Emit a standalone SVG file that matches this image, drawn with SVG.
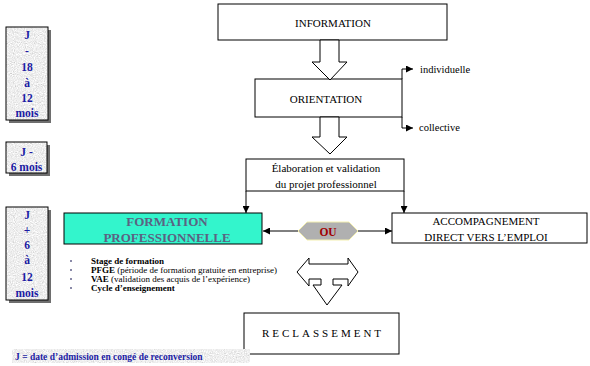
<svg xmlns="http://www.w3.org/2000/svg" width="590" height="366" viewBox="0 0 590 366">
<style>
  .box { fill: #ffffff; stroke: #000000; stroke-width: 1; }
  .lbl { font-family: "Liberation Serif", "Times New Roman", serif; font-size: 11px; fill: #000000; text-anchor: middle; }
  .side { fill: #e0e0e0; stroke: #000000; stroke-width: 1; }
  .shadow { fill: #6e6e6e; }
  .stxt { font-family: "Liberation Serif", "Times New Roman", serif; font-size: 11.5px; font-weight: bold; fill: #1c1ca4; text-anchor: middle; }
  .barrow { fill: #ffffff; stroke: #000000; stroke-width: 1; }
  .line { fill: none; stroke: #000000; stroke-width: 1; }
  .small { font-family: "Liberation Serif", "Times New Roman", serif; font-size: 10.5px; fill: #000000; }
  .bul { font-family: "Liberation Serif", "Times New Roman", serif; font-size: 9px; fill: #000000; }
  .ftxt { font-family: "Liberation Serif", "Times New Roman", serif; font-size: 13px; font-weight: bold; fill: #5b6282; text-anchor: middle; }
</style>
<defs>
  <marker id="ah" viewBox="0 0 10 10" refX="10" refY="5" markerWidth="7" markerHeight="7" markerUnits="userSpaceOnUse" orient="auto">
    <path d="M0,0 L10,5 L0,10 z" fill="#000000"/>
  </marker>
  <filter id="granite" x="0" y="0" width="1" height="1">
    <feTurbulence type="fractalNoise" baseFrequency="0.9" numOctaves="2" seed="4" result="n"/>
    <feColorMatrix in="n" type="matrix" values="0.33 0.33 0.33 0 0.36  0.33 0.33 0.33 0 0.36  0.33 0.33 0.33 0 0.36  0 0 0 0 1" result="g"/>
    <feComposite in="g" in2="SourceGraphic" operator="in"/>
  </filter>
</defs>
<rect width="590" height="366" fill="#ffffff"/>

<g id="time-j18">
  <rect class="shadow" x="9" y="30" width="42" height="93"/>
  <rect class="side" x="6" y="27" width="42" height="93" filter="url(#granite)"/>
  <rect x="6" y="27" width="42" height="93" fill="none" stroke="#000000"/>
  <text class="stxt" x="27" y="39">J</text>
  <text class="stxt" x="27" y="55">-</text>
  <text class="stxt" x="27" y="71">18</text>
  <text class="stxt" x="27" y="87">à</text>
  <text class="stxt" x="27" y="102">12</text>
  <text class="stxt" x="27" y="117">mois</text>
</g>
<g id="time-j6">
  <rect class="shadow" x="9" y="145" width="41" height="31"/>
  <rect class="side" x="6" y="142" width="41" height="31" filter="url(#granite)"/>
  <rect x="6" y="142" width="41" height="31" fill="none" stroke="#000000"/>
  <text class="stxt" x="26.5" y="156">J -</text>
  <text class="stxt" x="26.5" y="171">6 mois</text>
</g>
<g id="time-j6-12">
  <rect class="shadow" x="9" y="210" width="42" height="93"/>
  <rect class="side" x="6" y="207" width="42" height="93" filter="url(#granite)"/>
  <rect x="6" y="207" width="42" height="93" fill="none" stroke="#000000"/>
  <text class="stxt" x="27" y="219">J</text>
  <text class="stxt" x="27" y="234">+</text>
  <text class="stxt" x="27" y="249">6</text>
  <text class="stxt" x="27" y="264">à</text>
  <text class="stxt" x="27" y="281">12</text>
  <text class="stxt" x="27" y="297">mois</text>
</g>

<g id="information">
  <rect class="box" x="218" y="4" width="229" height="36"/>
  <text class="lbl" x="333" y="27" font-size="12.5">INFORMATION</text>
</g>
<g id="orientation">
  <rect class="box" x="255" y="79" width="147" height="38"/>
  <text class="lbl" x="326" y="103" font-size="13.5">ORIENTATION</text>
</g>
<g id="elaboration">
  <rect class="box" x="246" y="159" width="158" height="32"/>
  <text class="lbl" x="326" y="172" font-size="12.5">Élaboration et validation</text>
  <text class="lbl" x="326" y="188" font-size="12.5">du projet professionnel</text>
</g>
<g id="formation">
  <rect x="64" y="213" width="198" height="31" fill="#33f5cc" stroke="#000000" stroke-width="1"/>
  <text class="ftxt" x="167" y="226">FORMATION</text>
  <text class="ftxt" x="167" y="242">PROFESSIONNELLE</text>
</g>
<g id="ou">
  <polygon points="298,231 307,222 349,222 358,231 349,240 307,240" fill="#b0b0b0" stroke="#f4f0b0" stroke-width="1"/>
  <text x="328" y="235.5" font-family="Liberation Serif, Times New Roman, serif" font-size="11.5" font-weight="bold" fill="#a00000" text-anchor="middle">OU</text>
</g>
<g id="accompagnement">
  <rect class="box" x="392" y="213" width="195" height="30"/>
  <text class="lbl" x="486" y="225">ACCOMPAGNEMENT</text>
  <text class="lbl" x="486" y="241">DIRECT VERS L’EMPLOI</text>
</g>
<g id="reclassement">
  <rect class="box" x="244" y="313" width="155" height="41"/>
  <text class="lbl" x="323" y="337" font-size="12" letter-spacing="3">RECLASSEMENT</text>
</g>

<g id="options">
  <text class="small" x="420" y="73">individuelle</text>
  <text class="small" x="419" y="131">collective</text>
</g>

<g id="bullets">
  <rect x="70" y="260" width="2" height="2" fill="#8a8aa8"/>
  <rect x="70" y="269" width="2" height="2" fill="#8a8aa8"/>
  <rect x="70" y="278" width="2" height="2" fill="#8a8aa8"/>
  <rect x="70" y="287" width="2" height="2" fill="#8a8aa8"/>
  <text class="bul" x="91" y="264"><tspan font-weight="bold">Stage de formation</tspan></text>
  <text class="bul" x="91" y="273"><tspan font-weight="bold">PFGE</tspan> (période de formation gratuite en entreprise)</text>
  <text class="bul" x="91" y="282"><tspan font-weight="bold">VAE</tspan> (validation des acquis de l’expérience)</text>
  <text class="bul" x="91" y="291"><tspan font-weight="bold">Cycle d’enseignement</tspan></text>
</g>

<g id="legend">
  <rect x="12" y="349" width="238" height="14" fill="#e0e0e0" filter="url(#granite)"/>
  <text x="15" y="359.5" font-family="Liberation Serif, Times New Roman, serif" font-size="9.5" font-weight="bold" fill="#1c1ca4">J = date d’admission en congé de reconversion</text>
</g>

<g id="connectors">
  <polygon class="barrow" points="320,40 339,40 339,62 347,62 330,80 312,62 320,62"/>
  <polygon class="barrow" points="320,117 339,117 339,137 347,137 330,154 312,137 320,137"/>
  <polygon class="barrow" points="297,272 309,258 309,264 348,264 348,258 358,272 348,286 348,279 333,279 333,285 342,285 327,305 313,285 321,285 321,279 309,279 309,286"/>
  <path class="line" d="M402,79 V69 H413" marker-end="url(#ah)"/>
  <path class="line" d="M402,117 V128 H413" marker-end="url(#ah)"/>
  <path class="line" d="M246,191 V213" marker-end="url(#ah)"/>
  <path class="line" d="M404,191 V213" marker-end="url(#ah)"/>
  <path class="line" d="M298,231 H263" marker-end="url(#ah)"/>
  <path class="line" d="M358,231 H392" marker-end="url(#ah)"/>
</g>
</svg>
